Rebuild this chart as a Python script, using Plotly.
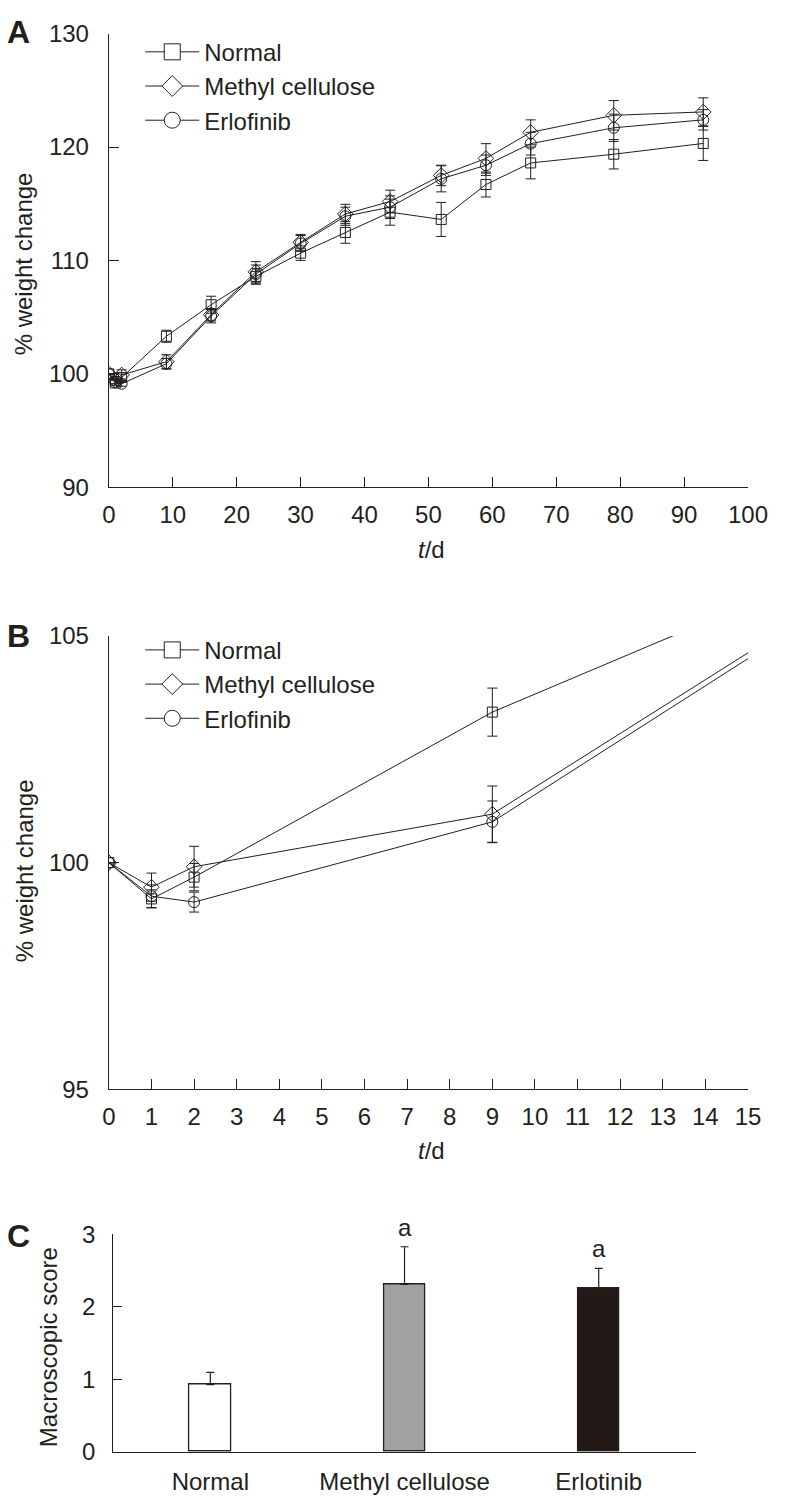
import plotly.graph_objects as go

# ---------------- data ----------------
days = [0, 1, 2, 9, 16, 23, 30, 37, 44, 52, 59, 66, 79, 93]

normal_mean = [100, 99.20, 99.68, 103.32, 106.10, 108.60, 110.65, 112.47, 114.26, 113.62, 116.70, 118.60, 119.37, 120.32]
normal_err = [0, 0.20, 0.30, 0.53, 0.75, 0.70, 0.64, 0.95, 1.15, 1.50, 1.10, 1.40, 1.30, 1.50]

methyl_mean = [100, 99.46, 99.91, 101.07, 105.22, 109.00, 111.60, 114.10, 115.20, 117.50, 119.00, 121.30, 122.80, 123.10]
methyl_err = [0, 0.31, 0.45, 0.62, 0.55, 0.90, 0.70, 0.85, 1.00, 0.90, 1.30, 1.10, 1.30, 1.24]

erlo_mean = [100, 99.26, 99.13, 100.90, 105.10, 108.80, 111.50, 113.90, 114.70, 117.20, 118.40, 120.30, 121.70, 122.40]
erlo_err = [0, 0.25, 0.22, 0.46, 0.60, 0.80, 0.70, 0.80, 1.00, 1.15, 0.90, 1.00, 1.20, 0.90]

series_names = ["Normal", "Methyl cellulose", "Erlofinib"]

bar_groups = ["Normal", "Methyl cellulose", "Erlotinib"]
bar_means = [0.926, 2.31, 2.26]
bar_errs = [0.17, 0.52, 0.27]
bar_sig = ["", "a", "a"]

xA_ticks = [0, 10, 20, 30, 40, 50, 60, 70, 80, 90, 100]
yA_ticks = [90, 100, 110, 120, 130]
xB_ticks = list(range(0, 16))
yB_ticks = [95, 100, 105]
yC_ticks = [0, 1, 2, 3]

# ---------------- style ----------------
INK = "#231f20"
FONT = "Liberation Sans"
FS = 24
W, H = 787, 1505

symbols_open = ["square-open", "diamond-open", "circle-open"]
symbols_leg = ["square", "diamond", "circle"]
sizes = [10, 12, 11]
means = [normal_mean, methyl_mean, erlo_mean]
errs = [normal_err, methyl_err, erlo_err]

fig = go.Figure()

for axx, axy, leg in [("x", "y", "legend"), ("x2", "y2", "legend2")]:
    for i in range(3):
        fig.add_trace(go.Scatter(
            x=days, y=means[i], mode="lines+markers",
            xaxis=axx, yaxis=axy, showlegend=False,
            line=dict(color=INK, width=1),
            marker=dict(symbol=symbols_open[i], size=sizes[i], color=INK,
                        line=dict(width=1, color=INK)),
            error_y=dict(type="data", array=errs[i], color=INK, thickness=1, width=5),
            cliponaxis=True,
        ))
    for i in range(3):
        fig.add_trace(go.Scatter(
            x=[None], y=[None], mode="lines+markers", name=series_names[i],
            xaxis=axx, yaxis=axy, legend=leg, showlegend=True,
            line=dict(color=INK, width=1),
            marker=dict(symbol=symbols_leg[i], size=16, color="white",
                        line=dict(width=1, color=INK)),
        ))

bar_fill = ["white", "#a0a2a1", "#231a18"]
fig.add_trace(go.Bar(
    x=bar_groups, y=bar_means, xaxis="x3", yaxis="y3", showlegend=False,
    width=0.214,
    marker=dict(color=bar_fill, line=dict(color=INK, width=1.3)),
    error_y=dict(type="data", symmetric=False, array=bar_errs, arrayminus=[0, 0, 0],
                 color=INK, thickness=1.2, width=4),
))

def px_x(p):
    return p / W

def px_y(p):
    return 1 - p / H

axis_common = dict(showline=True, linecolor=INK, linewidth=1.3, ticks="inside",
                   tickcolor=INK, tickwidth=1.3, ticklen=10, showgrid=False,
                   zeroline=False, tickfont=dict(family=FONT, size=FS, color=INK))

fig.update_layout(
    width=W, height=H, margin=dict(l=0, r=0, t=0, b=0),
    paper_bgcolor="white", plot_bgcolor="white",
    font=dict(family=FONT, size=FS, color=INK),
    xaxis=dict(domain=[px_x(105.5), px_x(767.3)], range=[0, 100], tickvals=xA_ticks,
               anchor="y", ticklabelstandoff=6, **axis_common),
    yaxis=dict(domain=[px_y(482), px_y(20)], range=[90, 130], tickvals=yA_ticks,
               anchor="x", ticklabelstandoff=14, **axis_common),
    xaxis2=dict(domain=[px_x(105.5), px_x(767.3)], range=[0, 15], tickvals=xB_ticks,
                anchor="y2", ticklabelstandoff=6, **axis_common),
    yaxis2=dict(domain=[px_y(1095), px_y(633.3)], range=[95, 105], tickvals=yB_ticks,
                anchor="x2", ticklabelstandoff=14, **axis_common),
    xaxis3=dict(domain=[px_x(110), px_x(713.3)], range=[-0.5, 2.5], anchor="y3",
                showline=True, linecolor=INK, linewidth=1.3, ticks="", showgrid=False,
                zeroline=False, ticklabelstandoff=8,
                tickfont=dict(family=FONT, size=FS, color=INK)),
    yaxis3=dict(domain=[px_y(1464), px_y(1242.7)], range=[0, 3], tickvals=yC_ticks,
                anchor="x3", ticklabelstandoff=12, **{**axis_common, "ticklen": 9}),
    legend=dict(x=px_x(138), y=px_y(16), xanchor="left", yanchor="top",
                bgcolor="rgba(0,0,0,0)", itemwidth=54,
                font=dict(family=FONT, size=FS, color=INK)),
    legend2=dict(x=px_x(138), y=px_y(625), xanchor="left", yanchor="top",
                 bgcolor="rgba(0,0,0,0)", itemwidth=54,
                 font=dict(family=FONT, size=FS, color=INK)),
    bargap=0,
)

ann = []
# panel letters
for letter, yc in [("A", 18), ("B", 633), ("C", 1244)]:
    ann.append(dict(text="<b>%s</b>" % letter, x=px_x(12), y=px_y(yc), xref="paper", yref="paper",
                    xanchor="center", yanchor="middle", showarrow=False,
                    font=dict(family=FONT, size=32, color=INK)))
# y titles
for txt, xc, yc in [("% weight change", 17.5, 254), ("% weight change", 17.5, 872),
                    ("Macroscopic score", 43, 1358)]:
    ann.append(dict(text=txt, x=px_x(xc), y=px_y(yc), xref="paper", yref="paper",
                    xanchor="center", yanchor="middle", textangle=-90, showarrow=False,
                    font=dict(family=FONT, size=FS, color=INK)))
# x titles
for yc in [545, 1157]:
    ann.append(dict(text="<i>t</i>/d", x=px_x(440), y=px_y(yc), xref="paper", yref="paper",
                    xanchor="center", yanchor="middle", showarrow=False,
                    font=dict(family=FONT, size=FS, color=INK)))
# significance marks
for g, m, e, s in zip(bar_groups, bar_means, bar_errs, bar_sig):
    if s:
        ann.append(dict(text=s, x=g, y=m + e, xref="x3", yref="y3", xanchor="center",
                        yanchor="bottom", yshift=4, showarrow=False,
                        font=dict(family=FONT, size=FS, color=INK)))
fig.update_layout(annotations=ann)

fig.write_html(
    "out.html",
    config={"displayModeBar": False},
    post_script="document.body.style.margin='0';document.body.style.overflow='hidden';",
)
